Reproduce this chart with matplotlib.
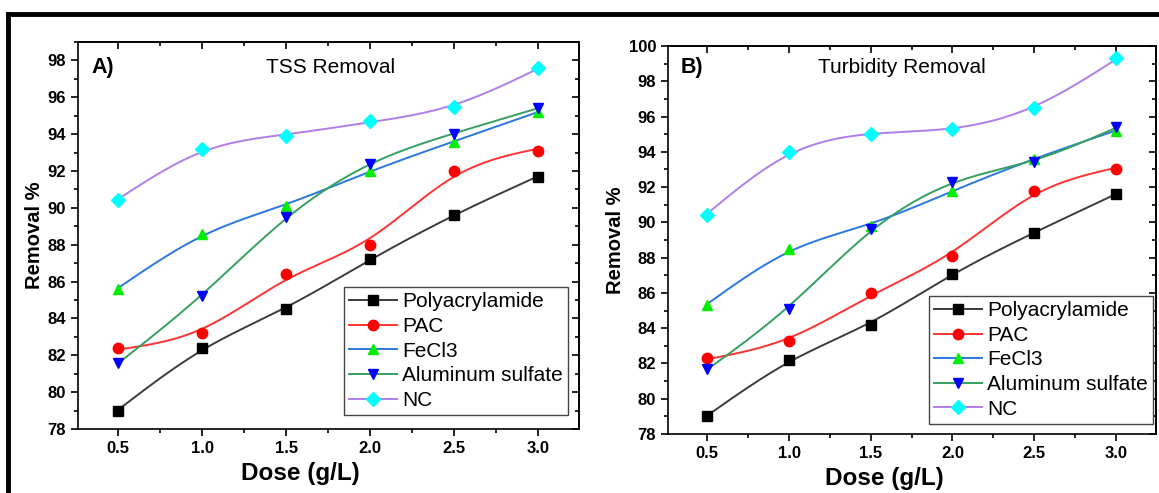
import numpy as np
import matplotlib
matplotlib.use("Agg")
import matplotlib.pyplot as plt
from matplotlib.lines import Line2D
from matplotlib.ticker import MultipleLocator

plt.rcParams["font.family"] = ["Liberation Sans", "DejaVu Sans"]

dose = [0.5, 1.0, 1.5, 2.0, 2.5, 3.0]
names = ["Polyacrylamide", "PAC", "FeCl3", "Aluminum sulfate", "NC"]

# A) TSS removal (%)
tss_poly = [79.0, 82.4, 84.5, 87.2, 89.6, 91.7]
tss_pac = [82.4, 83.2, 86.4, 88.0, 92.0, 93.1]
tss_fecl3 = [85.6, 88.6, 90.1, 92.0, 93.6, 95.2]
tss_alum = [81.6, 85.2, 89.5, 92.4, 94.0, 95.4]
tss_nc = [90.4, 93.2, 93.9, 94.7, 95.5, 97.6]

# B) Turbidity removal (%)
tur_poly = [79.0, 82.2, 84.2, 87.1, 89.4, 91.6]
tur_pac = [82.3, 83.3, 86.0, 88.1, 91.8, 93.0]
tur_fecl3 = [85.3, 88.5, 89.8, 91.8, 93.6, 95.2]
tur_alum = [81.7, 85.1, 89.6, 92.3, 93.4, 95.4]
tur_nc = [90.4, 94.0, 95.0, 95.3, 96.5, 99.3]

# (line colour, marker, marker colour)
STYLES = [
    ("#3c3c3c", "s", "#000000"),
    ("#ff3333", "o", "#ff0000"),
    ("#2a78e0", "^", "#00ee00"),
    ("#35a060", "v", "#0000ff"),
    ("#b07ee8", "D", "#00ffff"),
]


def natural_spline(x, y, n=200):
    # natural cubic spline through (x, y), used only for drawing the curve
    x = np.asarray(x, float)
    y = np.asarray(y, float)
    k = len(x)
    h = np.diff(x)
    A = np.zeros((k, k))
    b = np.zeros(k)
    A[0, 0] = A[-1, -1] = 1
    for i in range(1, k - 1):
        A[i, i - 1] = h[i - 1]
        A[i, i] = 2 * (h[i - 1] + h[i])
        A[i, i + 1] = h[i]
        b[i] = 6 * ((y[i + 1] - y[i]) / h[i] - (y[i] - y[i - 1]) / h[i - 1])
    M = np.linalg.solve(A, b)
    xs = np.linspace(x[0], x[-1], n)
    idx = np.clip(np.searchsorted(x, xs) - 1, 0, k - 2)
    x0, x1 = x[idx], x[idx + 1]
    hh = x1 - x0
    t0, t1 = x1 - xs, xs - x0
    ys = (M[idx] * t0**3 + M[idx + 1] * t1**3) / (6 * hh) \
        + (y[idx] / hh - M[idx] * hh / 6) * t0 \
        + (y[idx + 1] / hh - M[idx + 1] * hh / 6) * t1
    return xs, ys


def smooth_curve(x, y, lam=0.004):
    # Reinsch smoothing spline (like Origin's smoothed line)
    x = np.asarray(x, float)
    y = np.asarray(y, float)
    k = len(x)
    h = np.diff(x)
    Q = np.zeros((k, k - 2))
    R = np.zeros((k - 2, k - 2))
    for j in range(1, k - 1):
        Q[j - 1, j - 1] = 1 / h[j - 1]
        Q[j, j - 1] = -1 / h[j - 1] - 1 / h[j]
        Q[j + 1, j - 1] = 1 / h[j]
        R[j - 1, j - 1] = (h[j - 1] + h[j]) / 3
        if j < k - 2:
            R[j - 1, j] = R[j, j - 1] = h[j] / 6
    gamma = np.linalg.solve(R + lam * Q.T @ Q, Q.T @ y)
    g = y - lam * Q @ gamma
    return natural_spline(x, g)


def draw_panel(ax, series, ylim, letter, title, title_x, title_y, leg_anchor):
    for vals, (lc, mk, mc) in zip(series, STYLES):
        xs, ys = smooth_curve(dose, vals)
        ax.plot(xs, ys, color=lc, lw=1.4, zorder=2)
        ax.plot(dose, vals, ls="none", marker=mk, color=mc, ms=7.5, zorder=3)

    ax.set_xlim(0.26, 3.245)
    ax.set_ylim(*ylim)
    ax.xaxis.set_major_locator(MultipleLocator(0.5))
    ax.xaxis.set_minor_locator(MultipleLocator(0.25))
    ax.yaxis.set_major_locator(MultipleLocator(2))
    ax.yaxis.set_minor_locator(MultipleLocator(1))
    ax.tick_params(which="both", direction="out", top=False, right=False,
                   width=1.2, labelsize=12)
    ax.tick_params(which="major", length=5)
    ax.tick_params(which="minor", length=3)
    for lab in ax.get_xticklabels() + ax.get_yticklabels():
        lab.set_fontweight("bold")

    # mirrored inward ticks on top / right
    sec_x = ax.secondary_xaxis("top")
    sec_x.xaxis.set_major_locator(MultipleLocator(0.5))
    sec_x.xaxis.set_minor_locator(MultipleLocator(0.25))
    sec_x.tick_params(which="both", direction="in", labeltop=False, width=1.2)
    sec_x.tick_params(which="major", length=5)
    sec_x.tick_params(which="minor", length=3)
    sec_y = ax.secondary_yaxis("right")
    sec_y.yaxis.set_major_locator(MultipleLocator(2))
    sec_y.yaxis.set_minor_locator(MultipleLocator(1))
    sec_y.tick_params(which="both", direction="in", labelright=False, width=1.2)
    sec_y.tick_params(which="major", length=5)
    sec_y.tick_params(which="minor", length=3)
    for sp in list(ax.spines.values()):
        sp.set_linewidth(1.2)
    sec_x.spines["top"].set_linewidth(1.2)
    sec_y.spines["right"].set_linewidth(1.2)

    ax.set_xlabel("Dose (g/L)", fontsize=17.5, fontweight="bold", labelpad=4)
    ax.xaxis.set_label_coords(0.444, -0.085)
    ax.set_ylabel("Removal %", fontsize=14.5, fontweight="bold", labelpad=3)

    ax.text(0.026, title_y, letter, transform=ax.get_yaxis_transform(),
            fontsize=15.5, fontweight="bold", va="center", ha="left")
    ax.text(title_x, title_y, title, transform=ax.get_yaxis_transform(),
            fontsize=15, va="center", ha="center")

    handles = [Line2D([], [], color=lc, lw=1.4, marker=mk, mfc=mc, mec=mc, ms=7.5)
               for lc, mk, mc in STYLES]
    leg = ax.legend(handles, names, loc="lower left", bbox_to_anchor=leg_anchor,
                    fontsize=15, frameon=True, fancybox=False, framealpha=1,
                    edgecolor="#444444", handlelength=2.3, handletextpad=0.25,
                    borderpad=0.25, labelspacing=0.27, borderaxespad=0)
    leg.get_frame().set_linewidth(1.0)


fig = plt.figure(figsize=(11.59, 4.93), dpi=100)
ax1 = fig.add_axes([0.0673, 0.1298, 0.4323, 0.7850])
ax2 = fig.add_axes([0.5764, 0.1197, 0.4210, 0.7870])

draw_panel(ax1, [tss_poly, tss_pac, tss_fecl3, tss_alum, tss_nc], (78, 99),
           "A)", "TSS Removal", 0.505, 97.6, (0.531, 0.036))
draw_panel(ax2, [tur_poly, tur_pac, tur_fecl3, tur_alum, tur_nc], (78, 100),
           "B)", "Turbidity Removal", 0.48, 98.8, (0.535, 0.026))

# outer black frame (top and left edges)
fig.add_artist(Line2D([0.0069, 1.0], [0.9716, 0.9716], color="black", lw=3.5,
                      transform=fig.transFigure))
fig.add_artist(Line2D([0.0069, 0.0069], [0.0, 0.9716], color="black", lw=3.5,
                      transform=fig.transFigure))

fig.savefig("out.png", dpi=100)
